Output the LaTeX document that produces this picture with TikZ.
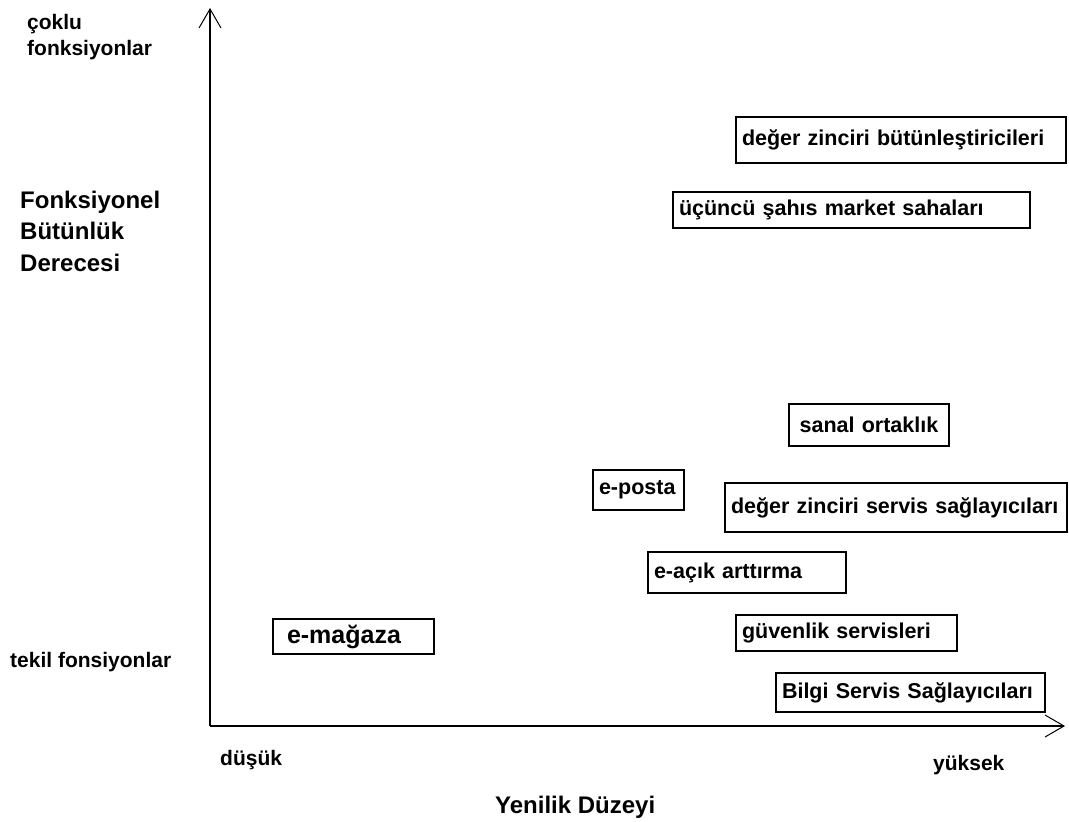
\documentclass[tikz,border=0pt]{standalone}
\usepackage{fontspec}
\setmainfont{Liberation Sans}
\usetikzlibrary{arrows.meta,positioning}

\begin{document}
\begin{tikzpicture}[x=1pt,y=-1pt,
  kutu/.style={draw,line width=1.5pt,font=\bfseries\fontsize{21.5}{25}\selectfont,
               align=left,inner xsep=6pt,inner ysep=0pt},
  etiket/.style={font=\bfseries\fontsize{21}{26}\selectfont,align=left,inner sep=0pt},
  baslik/.style={font=\bfseries\fontsize{24}{31.5}\selectfont,align=left,inner sep=0pt},
  eksen/.style={line width=1.5pt,-{Straight Barb[length=19pt,width=22pt,line width=1pt]}}
]
\useasboundingbox (0,0) rectangle (1069,822);
% Axes
\coordinate (orj) at (210,726);
\coordinate (ytepe) at (210,8);
\coordinate (xuc) at (1065,726);
\draw[eksen] (orj) -- (ytepe);
\draw[eksen] (orj) -- (xuc);
% Axis labels
\node[etiket,anchor=base west] (coklu) at (27,55) {çoklu\\fonksiyonlar};
\node[baslik,anchor=base west] (fbd) at (20,271) {Fonksiyonel\\Bütünlük\\Derecesi};
\node[etiket,anchor=base west] (tekil) at (10,667) {tekil fonsiyonlar};
\node[etiket,anchor=base west] (dusuk) at (220,765) {düşük};
\node[etiket,anchor=base west] (yuksek) at (933,770) {yüksek};
\node[baslik,anchor=base west] (yenilik) at (495,813) {Yenilik Düzeyi};
% Boxes
\node[kutu,text width=318pt,minimum height=46pt] (dzb) at (901,140) {değer zinciri bütünleştiricileri};
\node[kutu,text width=345pt,minimum height=36pt] (ucs) at (851.5,210) {üçüncü şahıs market sahaları};
\node[kutu,text width=148pt,minimum height=42pt,align=center] (sanal) at (869,425) {sanal ortaklık};
\node[kutu,text width=79pt,minimum height=40pt,inner xsep=6pt] (eposta) at (638.5,490) {e-posta};
\node[kutu,text width=330pt,minimum height=49pt] (dzs) at (896,507.5) {değer zinciri servis sağlayıcıları};
\node[kutu,text width=186pt,minimum height=41pt] (acik) at (747,572.5) {e-açık arttırma};
\node[kutu,text width=133pt,minimum height=35pt,inner xsep=14pt,
      font=\bfseries\fontsize{25}{27}\selectfont] (magaza) at (353.5,636.5) {e-mağaza};
\node[kutu,text width=209pt,minimum height=36pt] (guvenlik) at (846.5,633) {güvenlik servisleri};
\node[kutu,text width=257pt,minimum height=39pt] (bilgi) at (910.5,692.5) {Bilgi Servis Sağlayıcıları};
\end{tikzpicture}
\end{document}
